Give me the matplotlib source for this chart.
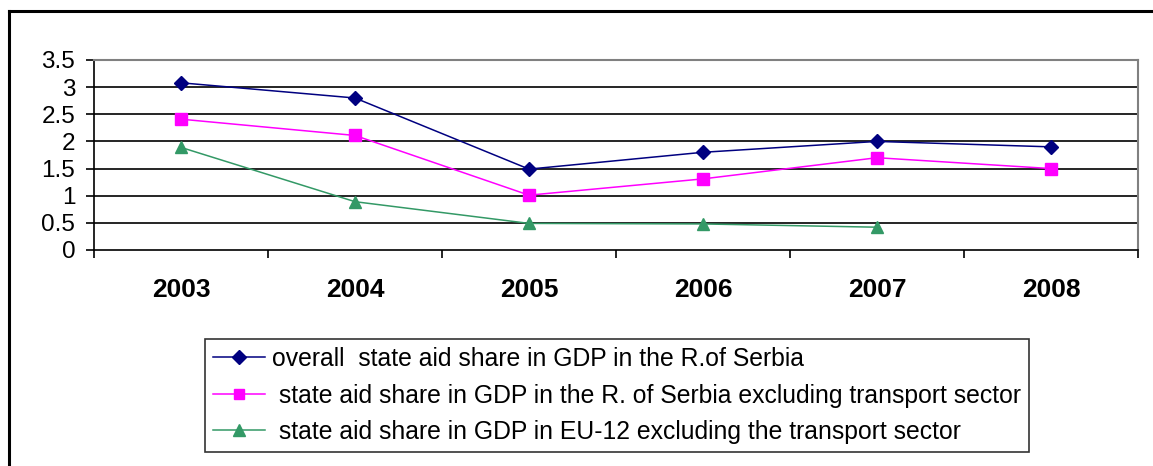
import matplotlib
matplotlib.use("Agg")
import matplotlib.pyplot as plt
from matplotlib.lines import Line2D
import numpy as np

years = ["2003", "2004", "2005", "2006", "2007", "2008"]
overall_serbia = [3.08, 2.80, 1.49, 1.80, 2.00, 1.90]
serbia_excl_transport = [2.41, 2.11, 1.01, 1.31, 1.70, 1.50]
eu12_excl_transport = [1.89, 0.89, 0.49, 0.48, 0.42]

labels = [
    "overall  state aid share in GDP in the R.of Serbia",
    " state aid share in GDP in the R. of Serbia excluding transport sector",
    " state aid share in GDP in EU-12 excluding the transport sector",
]

plt.rcParams['font.family'] = ['Liberation Sans', 'DejaVu Sans']

W, H = 1153, 466
fig = plt.figure(figsize=(W / 100, H / 100), dpi=100)
ax = fig.add_axes([94 / W, 1 - 250 / H, (1138 - 94) / W, (250 - 60) / H])

x = np.arange(len(years))
ax.plot(x, overall_serbia, color="#000080", lw=1.1, marker="D", ms=7.5,
        label=labels[0])
ax.plot(x, serbia_excl_transport, color="#FF00FF", lw=1.1, marker="s", ms=8,
        label=labels[1])
ax.plot(x[:len(eu12_excl_transport)], eu12_excl_transport, color="#339966",
        lw=1.1, marker="^", ms=9, label=labels[2])

ax.set_xlim(-0.5, len(years) - 0.5)
ax.set_ylim(0, 3.5)
ax.set_yticks(np.arange(0, 3.51, 0.5))
ax.set_yticklabels(["0", "0.5", "1", "1.5", "2", "2.5", "3", "3.5"], fontsize=17.5)
ax.set_xticks(x)
ax.set_xticklabels(years, fontsize=19, fontweight="bold")
ax.set_xticks(np.arange(-0.5, len(years), 1.0), minor=True)
ax.tick_params(axis="x", which="major", length=0, pad=20)
ax.tick_params(axis="x", which="minor", length=6, width=1.2, color="black")
ax.tick_params(axis="y", length=6, width=1.2, pad=7.5)

for yv in np.arange(0.5, 3.01, 0.5):
    ax.axhline(yv, color="black", lw=1.2, zorder=0)

ax.spines["left"].set_color("black")
ax.spines["bottom"].set_color("black")
ax.spines["left"].set_linewidth(1.2)
ax.spines["bottom"].set_linewidth(1.2)
ax.spines["top"].set_color("#808080")
ax.spines["right"].set_color("#808080")
ax.spines["top"].set_linewidth(1.5)
ax.spines["right"].set_linewidth(1.5)

leg = fig.legend(loc="upper left", bbox_to_anchor=(205 / W, 1 - 339 / H),
                 fontsize=17.8, frameon=True, fancybox=False, edgecolor="black",
                 handlelength=2.1, handletextpad=0.28, labelspacing=0.51,
                 borderpad=0.32, borderaxespad=0, markerscale=0.95)
leg.get_frame().set_linewidth(1.2)

# outer frame (top and left)
fig.add_artist(Line2D([8.5 / W, 1.0], [1 - 10.5 / H, 1 - 10.5 / H],
                      color="black", lw=2.2, transform=fig.transFigure))
fig.add_artist(Line2D([8.5 / W, 8.5 / W], [0, 1 - 10.5 / H],
                      color="black", lw=2.2, transform=fig.transFigure))

fig.savefig("out.png", dpi=100)
